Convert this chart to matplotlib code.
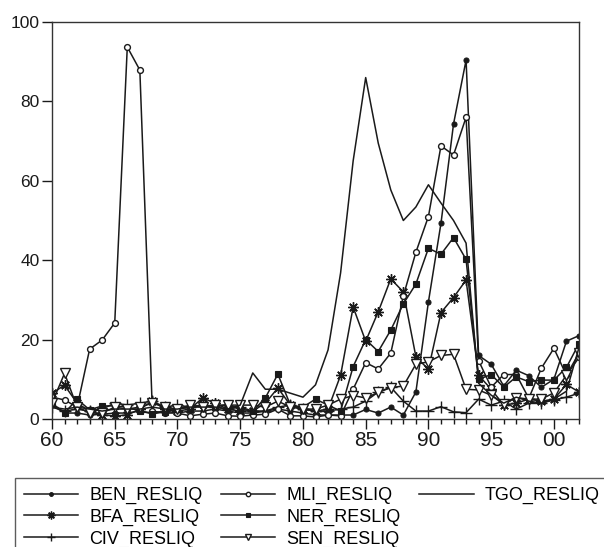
import matplotlib
matplotlib.use("Agg")
import matplotlib.pyplot as plt
from matplotlib.lines import Line2D
import numpy as np

plt.rcParams['font.family'] = ['Liberation Sans', 'DejaVu Sans']

years = list(range(1960, 2003))

ben = [3.5, 1.5, 1.5, 1.0, 1.2, 1.5, 1.5, 2.0, 1.5, 2.0, 1.5, 2.0, 2.0, 2.5, 2.0,
       1.5, 1.5, 2.0, 2.5, 2.0, 1.5, 1.0, 1.0, 1.0, 1.0, 2.4, 1.5, 3.0, 1.0, 6.8,
       29.5, 49.3, 74.3, 90.4, 16.0, 13.8, 8.3, 12.3, 10.9, 8.0, 10.0, 19.6, 21.0]
bfa = [6.5, 8.5, 4.0, 2.0, 1.0, 0.8, 1.0, 2.5, 4.5, 2.5, 2.0, 2.5, 5.3, 4.0, 2.5,
       2.0, 2.0, 4.0, 7.8, 3.5, 2.5, 2.0, 2.5, 11.0, 28.2, 19.6, 27.0, 35.3, 32.0, 15.7,
       12.5, 26.8, 30.6, 35.0, 11.0, 7.5, 3.5, 4.0, 5.0, 4.5, 5.0, 8.7, 6.8]
civ = [3.0, 2.0, 2.5, 2.0, 2.5, 4.0, 3.5, 4.0, 4.5, 3.0, 3.5, 3.0, 3.5, 3.0, 2.5,
       3.0, 2.0, 2.0, 3.0, 3.5, 2.5, 2.0, 2.0, 2.5, 3.0, 4.5, 6.8, 8.0, 4.5, 2.0,
       2.0, 3.1, 1.8, 1.6, 5.0, 3.5, 4.5, 2.5, 4.0, 4.0, 4.8, 5.5, 6.5]
mli = [5.5, 4.8, 3.0, 17.6, 19.9, 24.2, 93.7, 87.9, 2.0, 1.5, 1.5, 0.8, 1.2, 1.5, 0.8,
       0.7, 1.0, 1.2, 2.5, 0.8, 0.8, 0.5, 1.0, 0.8, 7.5, 14.2, 12.6, 16.6, 31.0, 42.0,
       51.0, 68.8, 66.5, 76.0, 14.7, 8.0, 11.2, 11.2, 5.2, 12.8, 17.8, 11.0, 15.5]
ner = [4.0, 1.5, 5.0, 2.3, 3.3, 3.3, 3.0, 2.0, 1.3, 1.8, 2.5, 3.0, 3.5, 3.0, 3.7,
       2.5, 2.0, 5.3, 11.3, 3.5, 3.0, 5.0, 3.5, 2.0, 13.2, 20.0, 17.0, 22.4, 29.0, 34.0,
       43.0, 41.5, 45.7, 40.2, 10.0, 11.2, 8.0, 10.6, 9.4, 9.8, 9.8, 13.0, 19.0]
sen = [4.0, 11.5, 3.0, 1.5, 1.5, 3.0, 2.5, 3.0, 4.0, 3.0, 2.5, 3.5, 3.0, 3.5, 3.5,
       3.5, 3.5, 3.0, 4.5, 3.0, 2.5, 2.5, 3.5, 5.0, 5.9, 5.3, 6.7, 7.9, 8.3, 13.8,
       14.4, 16.0, 16.3, 7.5, 7.3, 6.0, 3.7, 5.4, 5.0, 5.0, 6.6, 11.0, 16.6]
tgo = [3.0, 2.5, 3.0, 2.5, 2.0, 2.5, 2.5, 2.5, 3.0, 2.5, 2.5, 3.0, 3.0, 3.0, 2.5,
       3.5, 11.6, 7.5, 7.5, 6.5, 5.5, 8.6, 17.4, 36.8, 65.0, 86.0, 69.5, 57.7, 50.0, 53.4,
       59.0, 54.4, 50.0, 44.3, 9.0, 6.0, 4.0, 5.5, 4.5, 4.0, 5.0, 7.0, 18.0]

labels = ["BEN_RESLIQ", "BFA_RESLIQ", "CIV_RESLIQ", "MLI_RESLIQ",
          "NER_RESLIQ", "SEN_RESLIQ", "TGO_RESLIQ"]
series = [ben, bfa, civ, mli, ner, sen, tgo]

xtick_vals = [1960, 1965, 1970, 1975, 1980, 1985, 1990, 1995, 2000]
xtick_labels = ["60", "65", "70", "75", "80", "85", "90", "95", "00"]
ytick_vals = [0, 20, 40, 60, 80, 100]

c = "#1a1a1a"
styles = [
    dict(marker='o', ms=3.6, mfc=c, mec=c, mew=0.8),
    dict(marker=(8, 2, 0), ms=7.5, mfc=c, mec=c, mew=1.0),
    dict(marker='+', ms=8, mfc=c, mec=c, mew=1.0),
    dict(marker='o', ms=4.2, mfc='white', mec=c, mew=1.0),
    dict(marker='s', ms=4.3, mfc=c, mec=c, mew=0.8),
    dict(marker='v', ms=6.5, mfc='white', mec=c, mew=1.0),
    dict(marker=None),
]

fig = plt.figure(figsize=(6.04, 5.47), dpi=100)
ax = fig.add_axes([52/604, 1-419/547, (579-52)/604, (419-22)/547])

handles = []
for s, lab, st in zip(series, labels, styles):
    h, = ax.plot(years, s, color=c, lw=1.1, label=lab, **st)
    handles.append(h)

ax.set_xlim(1960, 2002)
ax.set_ylim(0, 100)
ax.set_xticks(xtick_vals)
ax.set_xticklabels(xtick_labels)
ax.set_xticks(years, minor=True)
ax.set_yticks(ytick_vals)
ax.tick_params(axis='both', which='major', direction='out', length=7, width=1,
               colors=c, pad=2)
ax.tick_params(axis='x', which='major', labelsize=15)
ax.tick_params(axis='y', which='major', labelsize=12.5)
ax.tick_params(axis='x', which='minor', direction='out', length=3.5, width=1, colors=c)
ax.tick_params(axis='y', which='minor', left=False)
for sp in ax.spines.values():
    sp.set_linewidth(1.0)
    sp.set_color('#333333')

# legend: column-major 3x3 with two blank slots
blank = Line2D([], [], linestyle='none', marker=None)
leg_handles = []
leg_labels = []
for h, lab in zip(handles, labels):
    st = dict(color=c, lw=1.1, marker=h.get_marker(),
              ms=h.get_markersize() * 0.75, mfc=h.get_markerfacecolor(),
              mec=h.get_markeredgecolor(), mew=h.get_markeredgewidth())
    leg_handles.append(Line2D([], [], **st))
    leg_labels.append(lab)
leg_handles += [blank, blank]
leg_labels += ["", ""]
leg = fig.legend(leg_handles, leg_labels, ncol=3, loc='upper left',
                 bbox_to_anchor=(15/604, 1-478/547), bbox_transform=fig.transFigure,
                 fontsize=13, frameon=True, fancybox=False, edgecolor='#333333',
                 handlelength=3.0, handletextpad=0.6, columnspacing=1.05,
                 labelspacing=0.25, borderpad=0.5, borderaxespad=0, markerscale=1)
leg.get_frame().set_linewidth(1.0)

fig.savefig("out.png", dpi=100)
